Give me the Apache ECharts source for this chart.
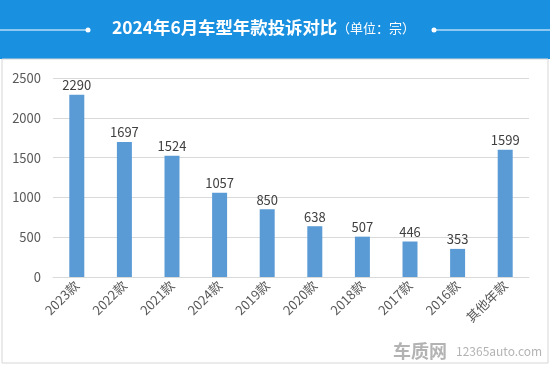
<!DOCTYPE html>
<html><head><meta charset="utf-8">
<script src="https://cdn.jsdelivr.net/npm/echarts@6/dist/echarts.min.js"></script>
<style>html,body{margin:0;padding:0;background:#fff}#c{width:550px;height:365px}</style>
</head><body><div id="c"></div>
<script>
const categories = ['2023款','2022款','2021款','2024款','2019款','2020款','2018款','2017款','2016款','其他年款'];
const values = [2290,1697,1524,1057,850,638,507,446,353,1599];
const yTicks = [0,500,1000,1500,2000,2500];

const chart = echarts.init(document.getElementById('c'));
const font = '"Microsoft YaHei","Noto Sans CJK SC",sans-serif';
chart.setOption({
  animation:false,
  textStyle:{fontFamily:font},
  graphic:[
    {type:'rect',shape:{x:0,y:0,width:550,height:59},style:{fill:'#1990E0'}},
    {type:'rect',shape:{x:2,y:59,width:546,height:304},style:{fill:'none',stroke:'#d6d6d6',lineWidth:1}},
    {type:'line',shape:{x1:0,y1:30,x2:88,y2:30},style:{stroke:'#fff',lineWidth:1}},
    {type:'circle',shape:{cx:88,cy:30,r:2.5},style:{fill:'#fff'}},
    {type:'line',shape:{x1:434,y1:30,x2:550,y2:30},style:{stroke:'#fff',lineWidth:1}},
    {type:'circle',shape:{cx:434,cy:30,r:2.5},style:{fill:'#fff'}},
    {type:'text',left:112,top:19,style:{text:'2024年6月车型年款投诉对比',fill:'#fff',font:'bold 17.4px '+font}},
    {type:'text',left:337,top:22,style:{text:'（单位：宗）',fill:'#fff',font:'13px '+font}},
    {type:'text',left:393,top:342,style:{text:'车质网',fill:'#a0a0a0',font:'bold 18px '+font,opacity:0.8}},
    {type:'text',left:456,top:345,style:{text:'12365auto.com',fill:'#a0a0a0',font:'12px '+font,opacity:0.8}}
  ],
  grid:{left:53,right:21,top:78,bottom:88},
  xAxis:{type:'category',data:categories,
    axisLine:{lineStyle:{color:'#d9d9d9'}},axisTick:{show:false},
    axisLabel:{rotate:45,color:'#595959',fontSize:13,margin:6,interval:0}},
  yAxis:{type:'value',min:0,max:2500,interval:500,
    axisLine:{show:false},axisTick:{show:false},
    splitLine:{lineStyle:{color:'#d9d9d9'}},
    axisLabel:{color:'#595959',fontSize:13,margin:12,formatter:v=>String(v)}},
  series:[{type:'bar',data:values,barWidth:15,itemStyle:{color:'#5B9BD5'},
    label:{show:true,position:'top',color:'#404040',fontSize:13,distance:3}}]
});
</script></body></html>
